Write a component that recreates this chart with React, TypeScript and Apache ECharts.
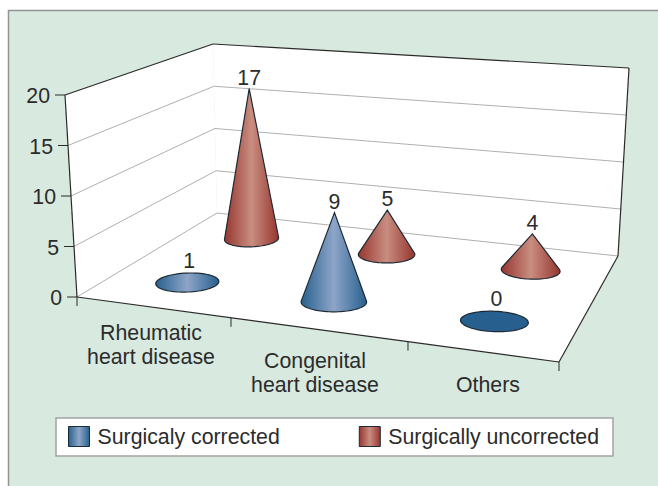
import React, { useEffect, useRef } from "react";
import * as echarts from "echarts";

const categories = ["Rheumatic\nheart disease", "Congenital\nheart disease", "Others"];
const corrected = [1, 9, 0];
const uncorrected = [17, 5, 4];
const yTicks = [0, 5, 10, 15, 20];
const seriesNames = ["Surgicaly corrected", "Surgically uncorrected"];

const W = 658, H = 486;
const FONT = '"Liberation Sans", Arial, sans-serif';
const FS = 21.3;
const TXT = "#2b2b2b";
const EDGE = "#2a2a2a";
const GRID = "#b0b0b0";
const GRID_BOX = { left: 65, top: 95, width: 494, height: 202 };

type P = [number, number];
const A: P = [77, 297], B: P = [559, 362], C: P = [217, 213], D: P = [618, 256];
const At: P = [65, 95], Bt: P = [572, 137], Ct: P = [213, 44], Dt: P = [629, 68];

const lerp = (a: P, b: P, t: number): P => [a[0] + (b[0] - a[0]) * t, a[1] + (b[1] - a[1]) * t];
// u along the categories, w into the depth, v up the value axis
const project = (u: number, w: number, v: number): P => {
  const bottom = lerp(lerp(A, B, u), lerp(C, D, u), w);
  const top = lerp(lerp(At, Bt, u), lerp(Ct, Dt, u), w);
  return lerp(bottom, top, v);
};

const grad = (edge: string, mid: string) =>
  new echarts.graphic.LinearGradient(0, 0, 1, 0, [
    { offset: 0, color: edge },
    { offset: 0.5, color: mid },
    { offset: 1, color: edge },
  ]);

const BLUE = ["#27608f", "#8ea5c8"];
const RED = ["#96362f", "#c98d80"];

const coneRenderer = (depth: number, colors: string[], dxs: number[], rxBase: number) => (params: any, api: any) => {
  const cat = api.value(0), val = api.value(1);
  const zero = api.coord([cat, 0]);
  const pt = api.coord([cat, val]);
  const u = (zero[0] - GRID_BOX.left) / GRID_BOX.width;
  const v = (zero[1] - pt[1]) / GRID_BOX.height;
  const base = project(u, depth, 0);
  const tip = project(u, depth, v);
  const dx = dxs[cat];
  const cx = base[0] + dx, cy = base[1] + 1;
  const ax = tip[0] + dx, ay = tip[1] + 3;
  const rx = rxBase + 3.5 * u, ry = rx * 0.3;
  const tilt = (u - 0.5) * 0.12;
  const cos = Math.cos(Math.atan(tilt)), sin = Math.sin(Math.atan(tilt));
  // apex in the ellipse's own frame, scaled to a unit circle
  const lx = (ax - cx) * cos + (ay - cy) * sin;
  const ly = -(ax - cx) * sin + (ay - cy) * cos;
  const nx = lx / rx, ny = ly / ry;
  const d = Math.hypot(nx, ny);
  const ell = (t: number): P => {
    const ex = rx * Math.cos(t), ey = ry * Math.sin(t);
    return [cx + ex * cos - ey * sin, cy + ex * sin + ey * cos];
  };
  const pts: P[] = [];
  let labelY: number;
  if (d <= 1.02) {
    for (let i = 0; i < 72; i++) pts.push(ell((i / 72) * Math.PI * 2));
    labelY = cy - ry - 12;
  } else {
    const phi = Math.atan2(ny, nx);
    const off = Math.acos(1 / d);
    const t0 = phi + off; // goes round the lower side
    const t1 = phi - off + Math.PI * 2;
    pts.push([ax, ay]);
    const n = 48;
    for (let i = 0; i <= n; i++) pts.push(ell(t0 + ((t1 - t0) * i) / n));
    labelY = ay - 11;
  }
  return {
    type: "group",
    children: [
      {
        type: "polygon",
        shape: { points: pts },
        style: { fill: val === 0 ? colors[0] : grad(colors[0], colors[1]), stroke: "#1d2a33", lineWidth: 1.2 },
      },
      {
        type: "text",
        style: {
          text: String(val), x: d <= 1.02 ? cx + 2 : ax, y: labelY,
          fill: TXT, font: `${FS}px ${FONT}`, align: "center", verticalAlign: "middle",
        },
      },
    ],
  };
};

const line = (a: P, b: P, stroke: string, lineWidth = 1) => ({
  type: "line",
  shape: { x1: a[0], y1: a[1], x2: b[0], y2: b[1] },
  style: { stroke, lineWidth },
});

const frameRenderer = (_: any, api: any) => {
  const children: any[] = [
    { type: "polygon", shape: { points: [A, B, D, C] }, style: { fill: "#fff" } },
    { type: "polygon", shape: { points: [C, D, Dt, Ct] }, style: { fill: "#fff" } },
    { type: "polygon", shape: { points: [A, C, Ct, At] }, style: { fill: "#fff" } },
  ];
  const yZero = api.coord([0, 0])[1];
  yTicks.forEach((t) => {
    const v = (yZero - api.coord([0, t])[1]) / GRID_BOX.height;
    const fl = project(0, 0, v), bl = project(0, 1, v), br = project(1, 1, v);
    if (t !== 20) {
      children.push(line(fl, bl, GRID), line(bl, br, GRID));
    }
    children.push(line([fl[0] - 10, fl[1]], fl, EDGE));
    children.push({
      type: "text",
      style: {
        text: String(t), x: fl[0] - 15, y: fl[1] + 1, fill: TXT, font: `${FS}px ${FONT}`,
        align: "right", verticalAlign: "middle",
      },
    });
  });
  children.push(
    line(At, Ct, EDGE, 1.2), line(Ct, Dt, EDGE, 1.2), line(Dt, D, EDGE, 1.2),
    line(D, B, EDGE, 1.2), line(B, A, EDGE, 1.2), line(A, At, EDGE, 1.2)
  );
  // category ticks on the front floor edge
  const tickUs = [0, 0.3195, 0.6867, 1];
  tickUs.forEach((u) => {
    const p = lerp(A, B, u);
    children.push(line(p, [p[0], p[1] + 9], EDGE));
  });
  const labelPos: P[] = [[151, 345], [315, 373], [488, 385]];
  categories.forEach((c, i) => {
    children.push({
      type: "text",
      style: {
        text: c, x: labelPos[i][0], y: labelPos[i][1], fill: TXT, font: `${FS}px ${FONT}`,
        lineHeight: 24, align: "center", verticalAlign: "middle",
      },
    });
  });
  return { type: "group", children };
};

export default function App() {
  const ref = useRef<HTMLDivElement>(null);
  useEffect(() => {
    document.body.style.margin = "0";
    const chart = echarts.init(ref.current!, null, { renderer: "svg" });
    chart.setOption({
      animation: false,
      backgroundColor: "#fff",
      graphic: [
        {
          type: "rect", z: -10, silent: true,
          shape: { x: 8.5, y: 10.5, width: W, height: H },
          style: { fill: "#d8e9df", stroke: "#949494", lineWidth: 1.5 },
        },
      ],
      grid: GRID_BOX,
      xAxis: { type: "category", data: categories, show: false },
      yAxis: { type: "value", min: 0, max: 20, interval: 5, show: false },
      legend: {
        left: 56, top: 418, padding: [8, 14, 9, 12],
        backgroundColor: "#fff", borderColor: "#a3a3a3", borderWidth: 1.5, borderRadius: 0,
        itemWidth: 21, itemHeight: 20, itemGap: 79, icon: "rect", selectedMode: false,
        textStyle: { fontFamily: FONT, fontSize: FS, color: TXT, lineHeight: 20, padding: [0, 0, 0, 3] },
        data: [
          { name: seriesNames[0], itemStyle: { color: grad(BLUE[0], BLUE[1]), borderColor: "#1d2a33", borderWidth: 1 } },
          { name: seriesNames[1], itemStyle: { color: grad(RED[0], RED[1]), borderColor: "#1d2a33", borderWidth: 1 } },
        ],
      },
      series: [
        {
          type: "custom", name: "frame", renderItem: frameRenderer, silent: true, z: 1,
          clip: false, data: [[0, 0]], encode: { x: 0, y: 1 },
        },
        {
          type: "custom", name: seriesNames[1], z: 2, clip: false,
          renderItem: coneRenderer(0.8, RED, [-7, -11, -6], 26.5),
          data: uncorrected.map((v, i) => [i, v]), encode: { x: 0, y: 1 },
        },
        {
          type: "custom", name: seriesNames[0], z: 3, clip: false,
          renderItem: coneRenderer(0.3, BLUE, [-8, -14, -6], 31),
          data: corrected.map((v, i) => [i, v]), encode: { x: 0, y: 1 },
        },
      ],
    });
    return () => chart.dispose();
  }, []);
  return <div ref={ref} style={{ position: "absolute", left: 0, top: 0, width: W, height: H }} />;
}
